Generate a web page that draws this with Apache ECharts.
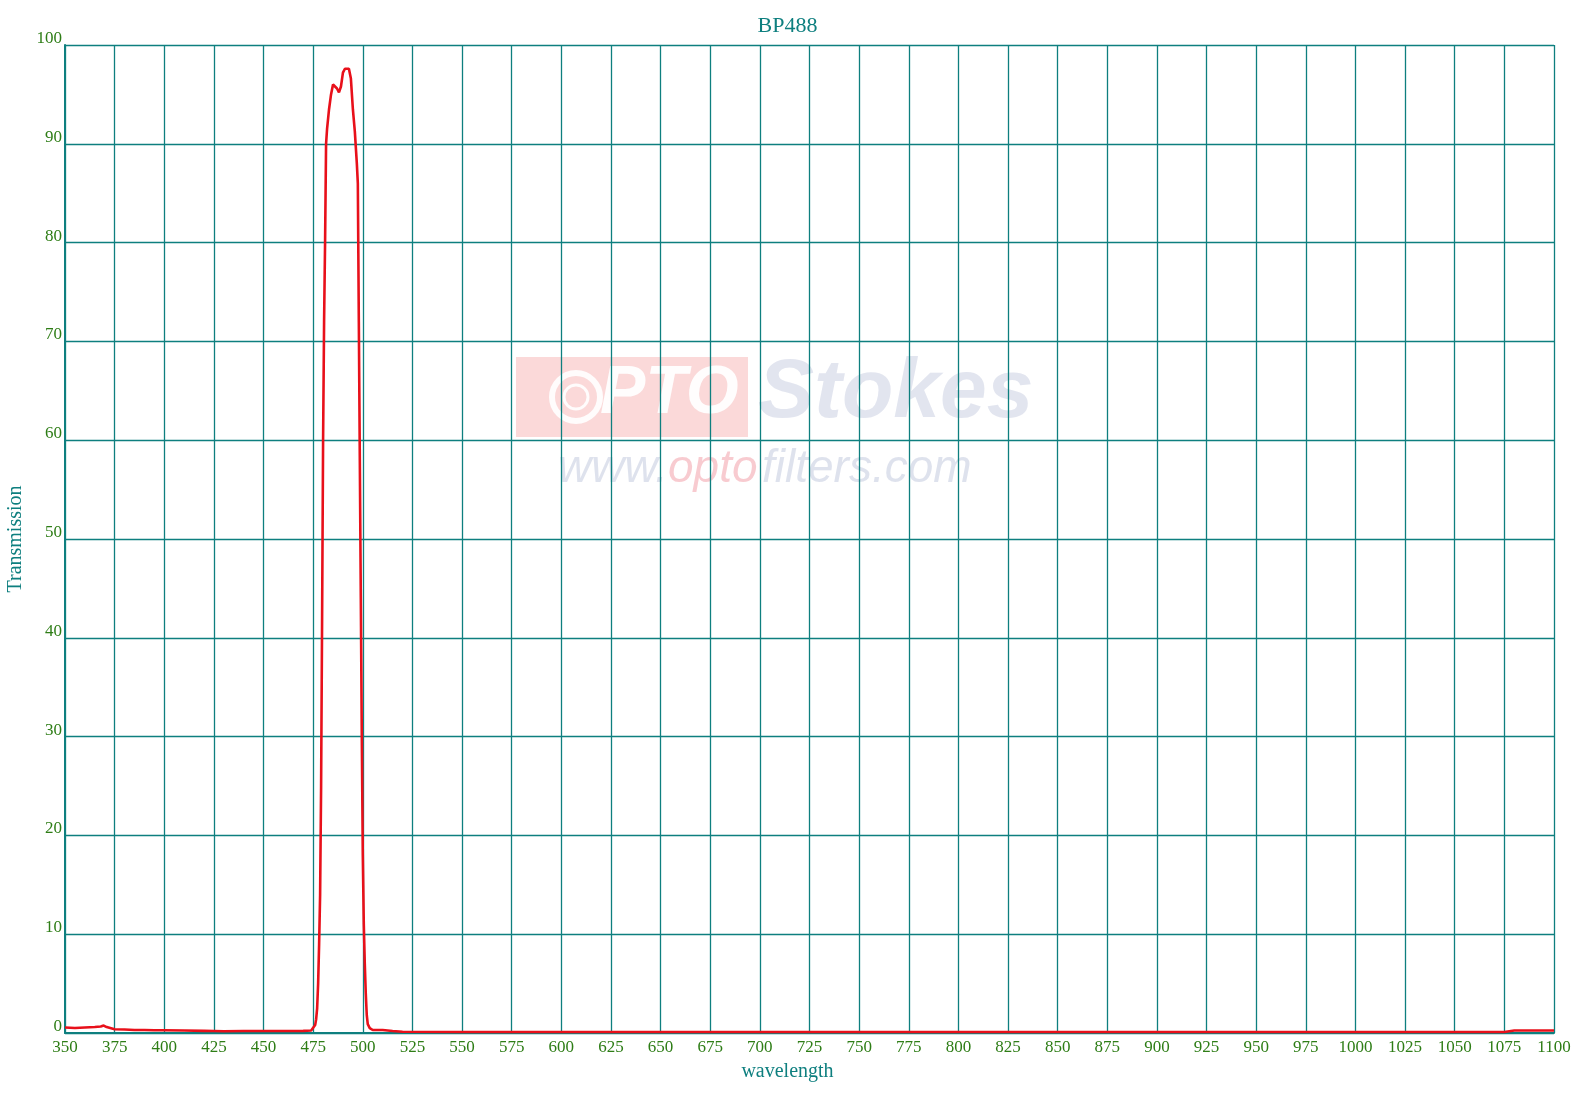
<!DOCTYPE html>
<html>
<head>
<meta charset="utf-8">
<script src="https://cdn.jsdelivr.net/npm/echarts@6/dist/echarts.min.js"></script>
<style>html,body{margin:0;padding:0;background:#fff;}#c{width:1575px;height:1103px;}</style>
</head>
<body>
<div id="c"></div>
<script>
const chartTitle = 'BP488';
const xName = 'wavelength';
const yName = 'Transmission';
const wavelengths = [350,355,360,365,368,369.5,371,372,375,380,385,390,395,400,410,420,425,430,440,450,460,470,474,475,476,476.5,477,477.5,478,478.5,479,479.5,480,480.5,481,481.5,482,483,484,485,486,487,488,489,490,491,492,493,494,495,496,497,497.5,498,498.5,499,499.5,500,500.5,501,501.5,502,502.5,503.5,505,510,515,520,550,600,700,800,900,1000,1075,1080,1090,1100];
const transmission = [0.55,0.5,0.55,0.6,0.65,0.75,0.6,0.4,0.38,0.35,0.3,0.3,0.28,0.28,0.25,0.22,0.2,0.18,0.2,0.2,0.2,0.22,0.25,0.3,0.8,1.4,2.5,5,9,14,25,42,60,72,80,90,91.5,93.5,95,96,95.8,95.6,95.2,95.8,97.2,97.6,97.5,97.6,96.6,93.5,91.2,88,86,72,58,44,30,18,11,7,4,1.8,0.9,0.5,0.3,0.3,0.2,0.12,0.1,0.1,0.1,0.1,0.1,0.1,0.1,0.25,0.25,0.25];

const chart = echarts.init(document.getElementById('c'));
const teal = '#0e7f7f';
const green = '#2e7d16';
const serif = "'Liberation Serif', 'DejaVu Serif', serif";
const wmFont = '"Liberation Sans", sans-serif';
chart.setOption({
  animation: false,
  backgroundColor: '#fff',
  title: {
    text: chartTitle, left: 'center', top: 10,
    textStyle: {color: teal, fontFamily: serif, fontSize: 22, fontWeight: 'normal'}
  },
  graphic: [
    {type: 'rect', z: -10, shape: {x: 516, y: 357, width: 232, height: 80}, style: {fill: 'rgba(240,120,120,0.28)'}},
    {type: 'text', z: -9, left: 600, top: 360, style: {text: 'PTO', fill: 'rgba(255,255,255,0.95)', font: 'italic bold 68px ' + wmFont}},
    {type: 'circle', z: -9, shape: {cx: 576, cy: 397, r: 24}, style: {fill: 'none', stroke: 'rgba(255,255,255,0.9)', lineWidth: 6}},
    {type: 'circle', z: -9, shape: {cx: 576, cy: 397, r: 12}, style: {fill: 'none', stroke: 'rgba(255,255,255,0.9)', lineWidth: 3}},
    {type: 'text', z: -9, left: 758, top: 352, style: {text: 'Stokes', fill: 'rgba(190,198,220,0.45)', font: 'italic bold 84px ' + wmFont}},
    {type: 'text', z: -9, left: 558, top: 446, style: {text: 'www.', fill: 'rgba(190,198,220,0.5)', font: 'italic 46px ' + wmFont}},
    {type: 'text', z: -9, left: 668, top: 446, style: {text: 'opto', fill: 'rgba(240,140,150,0.45)', font: 'italic 46px ' + wmFont}},
    {type: 'text', z: -9, left: 762, top: 446, style: {text: 'filters.com', fill: 'rgba(190,198,220,0.5)', font: 'italic 46px ' + wmFont}},
    {type: 'text', left: 'center', top: 1062, style: {text: xName, fill: teal, font: '20px ' + serif}}
  ],
  grid: {left: 65, right: 21, top: 45, bottom: 70, containLabel: false, outerBoundsMode: 'none'},
  xAxis: {
    type: 'value', min: 350, max: 1100, interval: 25,
    axisLine: {show: true, lineStyle: {color: teal, width: 2}},
    axisTick: {show: false},
    axisLabel: {color: green, fontFamily: serif, fontSize: 17, margin: 6, formatter: v => String(v)},
    splitLine: {show: true, lineStyle: {color: teal, width: 1.3}}
  },
  yAxis: {
    type: 'value', min: 0, max: 100, interval: 10,
    name: yName, nameLocation: 'middle', nameGap: 38,
    nameTextStyle: {color: teal, fontFamily: serif, fontSize: 20},
    axisLine: {show: true, lineStyle: {color: teal, width: 2}},
    axisTick: {show: false},
    axisLabel: {color: green, fontFamily: serif, fontSize: 17, margin: 3, verticalAlign: 'bottom', lineHeight: 13, formatter: v => String(v)},
    splitLine: {show: true, lineStyle: {color: teal, width: 1.3}}
  },
  series: [{
    type: 'line', showSymbol: false, symbol: 'none', smooth: false,
    data: wavelengths.map((w, i) => [w, transmission[i]]),
    lineStyle: {color: '#e8101a', width: 2.6},
    itemStyle: {color: '#e8101a'}
  }]
});
</script>
</body>
</html>
